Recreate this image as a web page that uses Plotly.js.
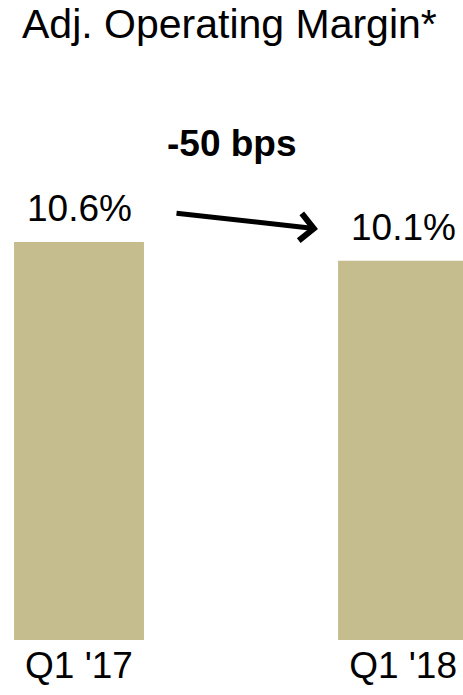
<!DOCTYPE html>
<html>
<head>
<meta charset="utf-8">
<script src="https://cdn.plot.ly/plotly-3.0.1.min.js"></script>
<style>html,body{margin:0;padding:0;background:#fff;}#chart{width:463px;height:695px;}</style>
</head>
<body>
<div id="chart"></div>
<script>
const categories = ["Q1 '17", "Q1 '18"];
const margins = [10.6, 10.1];
const valueLabels = ["10.6%", "10.1%"];
const changeLabel = "-50 bps";
const chartTitle = "Adj. Operating Margin*";

const FONT = "Liberation Sans, Arial, sans-serif";
const barColor = "#C6BD8E";

const trace = {
  type: "bar",
  x: categories,
  y: margins,
  marker: {color: barColor, line: {width: 0}},
  width: 0.401,
  hoverinfo: "skip"
};

const annotations = categories.map((c, i) => ({
  x: c, y: margins[i], xref: "x", yref: "y",
  text: valueLabels[i], showarrow: false,
  yanchor: "bottom", yshift: 11,
  font: {family: FONT, size: 37, color: "#000"}
}));

annotations.push({
  xref: "paper", yref: "paper", x: 0.5, y: (640 - 166) / 640,
  text: "<b>" + changeLabel + "</b>", showarrow: false,
  xanchor: "center", yanchor: "bottom",
  font: {family: FONT, size: 37, color: "#000"}
});

annotations.push({
  xref: "paper", yref: "paper", x: 318 / 463, y: (640 - 229) / 640,
  axref: "pixel", ayref: "pixel", ax: -143, ay: -16,
  text: "", showarrow: true,
  arrowhead: 4, arrowsize: 1.05, arrowwidth: 5, arrowcolor: "#000"
});

const layout = {
  width: 463, height: 695,
  margin: {l: 0, r: 0, t: 0, b: 55, pad: 0},
  paper_bgcolor: "#fff", plot_bgcolor: "#fff",
  showlegend: false,
  title: {
    text: chartTitle, x: 22 / 463, xanchor: "left",
    y: 1 - 9 / 695, yanchor: "top", yref: "container",
    font: {family: FONT, size: 41, color: "#000"}
  },
  xaxis: {
    type: "category", range: [-0.2438, 1.185],
    showgrid: false, zeroline: false, showline: false, ticks: "",
    tickfont: {family: FONT, size: 37, color: "#000"},
    fixedrange: true
  },
  yaxis: {
    range: [0, 640 / 37.55], visible: false, showgrid: false, zeroline: false,
    fixedrange: true
  },
  annotations: annotations
};

Plotly.newPlot("chart", [trace], layout, {displayModeBar: false, staticPlot: true});
</script>
</body>
</html>
